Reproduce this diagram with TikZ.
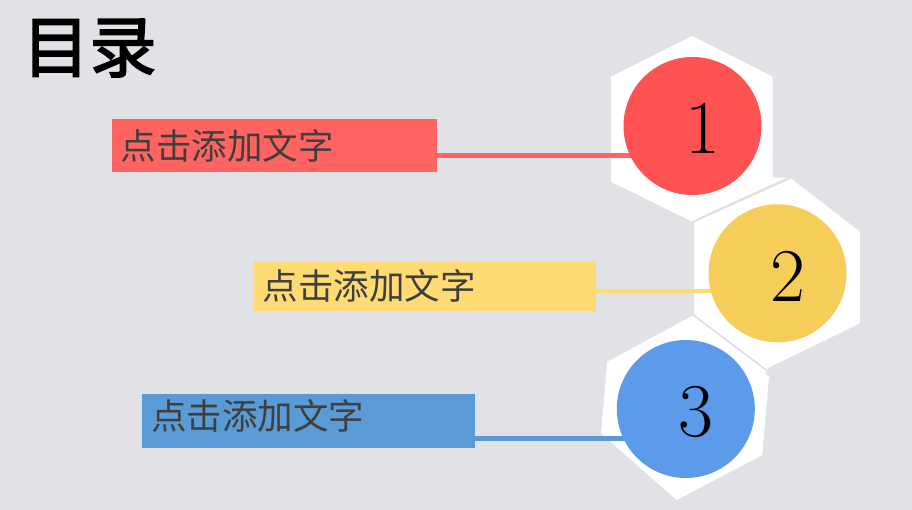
\documentclass[tikz,border=0pt]{standalone}
\usepackage{fontspec}
\usetikzlibrary{calc}
\newfontfamily\cjk{Noto Sans CJK SC}
\newfontfamily\cjkb[FakeBold=2.5]{Noto Sans CJK SC}
\definecolor{bg}{HTML}{E1E2E6}
\definecolor{redbar}{HTML}{FF6462}
\definecolor{redcirc}{HTML}{FF5252}
\definecolor{yelbar}{HTML}{FFDC73}
\definecolor{yelcirc}{HTML}{F5CD58}
\definecolor{bluebar}{HTML}{5A9AD5}
\definecolor{bluecirc}{HTML}{5B9BEA}
\definecolor{txt}{HTML}{3F3F3F}
\definecolor{seam}{HTML}{DADBDF}
\pgfdeclarelayer{back}
\pgfdeclarelayer{connl}
\pgfsetlayers{back,connl,main}
\tikzset{
  bar/.style={rectangle, inner sep=0pt, anchor=north west},
  bartext/.style={anchor=west, inner sep=0pt, text=txt, font=\cjk\fontsize{35.5}{35.5}\selectfont},
  circ/.style={circle, inner sep=0pt, minimum size=138pt},
  num/.style={inner sep=0pt, font=\fontsize{76}{76}\selectfont},
  conn/.style={line width=4.5pt},
  hexa/.style={fill=white},
  seamline/.style={draw=seam, line width=1.4pt}
}
\begin{document}
\begin{tikzpicture}[x=1pt,y=-1pt]
\begin{pgfonlayer}{back}
\fill[bg] (0,0) rectangle (912,510);
% hexagons
\fill[hexa] (692.3,36) -- (772.7,76.7) -- (772.7,177.5) -- (692.3,221.7) -- (611,181.7) -- (611,76.7) -- cycle;
\fill[hexa] (789.3,177.3) -- (860,231.7) -- (860,323.3) -- (765.7,369) -- (694,314) -- (694,221.7) -- cycle;
\fill[hexa] (694,315) -- (769,376.7) -- (762.3,455) -- (676.7,500) -- (601,433.3) -- (607.3,361.7) -- cycle;
\fill[hexa] (692.3,221.7) -- (772.7,177.5) -- (786,177.8) -- (694,220) -- cycle;
\draw[white, line width=5pt, line cap=butt] (697,314.5) -- (766.5,371.5);
\draw[seamline] (693.3,221.7) -- (790,178.3);
\draw[seamline] (693.3,315) -- (768.3,371.7);
\end{pgfonlayer}
\useasboundingbox (0,0) rectangle (912,510);
% title
\node[inner sep=0pt, font=\cjkb\fontsize{67}{67}\selectfont] (title) at (89.5,48) {目录};
% bars
\node[bar, fill=redbar, minimum width=325pt, minimum height=52.7pt] (r1) at (112,119) {};
\node[bar, fill=yelbar, minimum width=342pt, minimum height=50pt] (r2) at (254,261) {};
\node[bar, fill=bluebar, minimum width=332.7pt, minimum height=54.4pt] (r3) at (142,393.3) {};
\node[bartext] (t1) at (120.5,146) {点击添加文字};
\node[bartext] (t2) at (262.5,285.5) {点击添加文字};
\node[bartext] (t3) at (151,416) {点击添加文字};
% circles
\node[circ, fill=redcirc] (c1) at (692.5,126) {};
\node[circ, fill=yelcirc] (c2) at (777.5,273.3) {};
\node[circ, fill=bluecirc] (c3) at (685.8,409) {};
% connectors
\begin{pgfonlayer}{connl}
\draw[conn, redbar] (r1.east |- 0,155.3) -- (c1.center |- 0,155.3);
\draw[conn, yelbar] (r2.east |- 0,291.2) -- (c2.center |- 0,291.2);
\draw[conn, bluebar] (r3.east |- 0,438.5) -- (c3.center |- 0,438.5);
\end{pgfonlayer}
% numbers
\node[num] (n1) at ($(c1)+(10,2.5)$) {1};
\node[num] (n2) at ($(c2)+(10,3.5)$) {2};
\node[num] (n3) at ($(c3)+(10,2.5)$) {3};
\end{tikzpicture}
\end{document}
